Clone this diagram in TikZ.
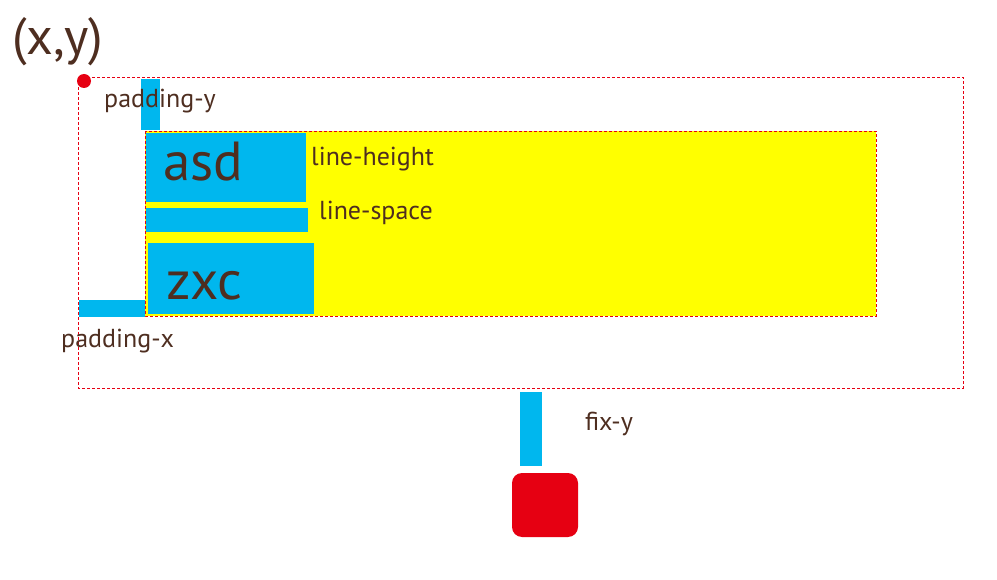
\documentclass[tikz,border=0pt]{standalone}
\usepackage{fontspec}
\setmainfont{PT Sans}
\definecolor{txtbrown}{RGB}{78, 46, 32}
\definecolor{barblue}{RGB}{0, 183, 238}
\definecolor{markred}{RGB}{230, 0, 18}
\definecolor{areayellow}{RGB}{255, 255, 0}
\usetikzlibrary{positioning}

\tikzset{
  label/.style={inner sep=0pt, anchor=base west, text=txtbrown, font=\fontsize{26}{30}\selectfont},
  bigtext/.style={inner sep=0pt, anchor=base west, text=txtbrown, font=\fontsize{55}{60}\selectfont},
  bar/.style={fill=barblue},
  border/.style={draw=markred, dashed, line width=0.9pt, dash pattern=on 3pt off 2pt}
}

\begin{document}
\begin{tikzpicture}[x=1pt, y=-1pt]
    \useasboundingbox (0,0) rectangle (997,580);

    % Outer block and origin
    \draw[border] (78,77) rectangle (963,388);
    \fill[markred] (84,81) circle (7);
    \node[bigtext, font=\fontsize{52}{56}\selectfont] (origin) at (12,55) {(x,y)};

    % Padding markers
    \fill[bar] (141,79) rectangle (160,130);
    \node[label] (padY) at (104,108) {padding-y};
    \fill[bar] (79,300) rectangle (145,317);
    \node[label] (padX) at (61,348) {padding-x};

    % Text area
    \fill[areayellow] (145,131) rectangle (876,316);
    \draw[border] (145,131) rectangle (876,316);

    % Lines of text
    \fill[bar] (146,133) rectangle (306,202);
    \node[bigtext] (lineA) at (163,181) {asd};
    \node[label] (lineHeight) at (311,166) {line-height};
    \fill[bar] (146,208) rectangle (308,232);
    \node[label] (lineSpace) at (319,220) {line-space};
    \fill[bar] (148,243) rectangle (314,314);
    \node[bigtext] (lineB) at (166,300) {zxc};

    % Fixed offset below
    \fill[bar] (520,392) rectangle (542,466);
    \node[label] (fixY) at (585,430) {fix-y};
    \fill[markred, rounded corners=10pt] (512,473) rectangle (578,537);
\end{tikzpicture}
\end{document}
